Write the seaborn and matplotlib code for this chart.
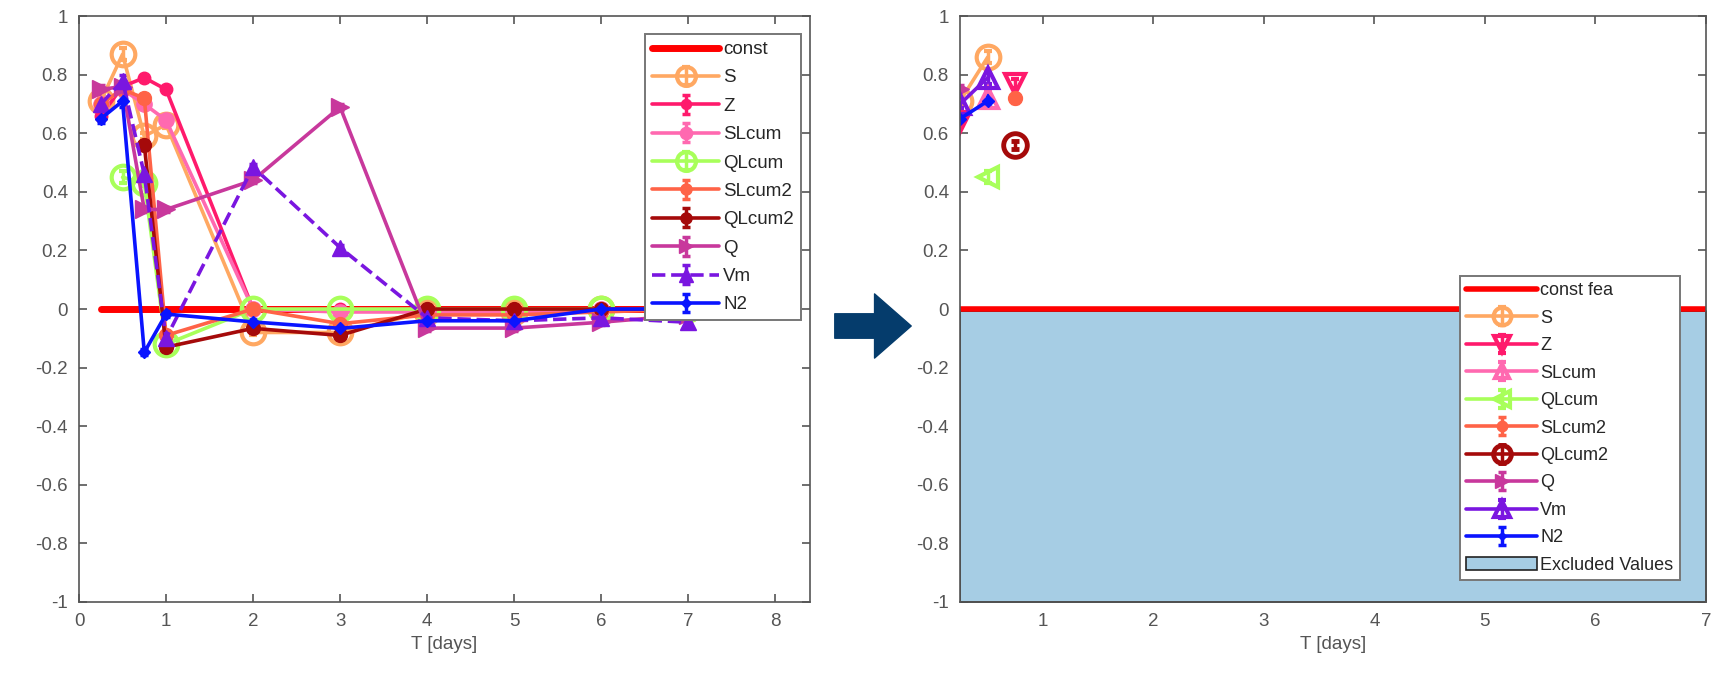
import numpy as np
import pandas as pd
import matplotlib
matplotlib.use('Agg')
import matplotlib.pyplot as plt
import seaborn as sns

# time points (days)
t_left = [0.25, 0.5, 0.75, 1, 2, 3, 4, 5, 6, 7]
nan = np.nan

# left panel: all features
S      = [0.71, 0.87, 0.59, 0.63, -0.08, -0.08, -0.01, -0.01, 0.0, 0.0]
Z      = [0.66, 0.76, 0.79, 0.75, 0.0, 0.0, 0.0, 0.0, 0.0, 0.0]
SLcum  = [0.70, 0.75, 0.70, 0.645, 0.0, -0.01, -0.01, -0.01, 0.0, 0.0]
QLcum  = [nan, 0.45, 0.43, -0.12, 0.0, 0.0, 0.0, 0.0, 0.0, 0.0]
SLcum2 = [0.70, 0.75, 0.72, -0.09, 0.0, -0.05, -0.02, -0.02, -0.01, 0.0]
QLcum2 = [nan, nan, 0.56, -0.13, -0.066, -0.09, 0.0, 0.0, 0.0, 0.0]
Q      = [0.75, 0.76, 0.34, 0.34, 0.44, 0.69, -0.065, -0.065, -0.045, -0.02]
Vm     = [0.70, 0.78, 0.46, -0.10, 0.485, 0.21, -0.03, -0.04, -0.03, -0.045]
N2     = [0.65, 0.71, -0.148, -0.017, -0.044, -0.066, -0.04, -0.04, 0.0, 0.0]
err_left = [0.015, 0.02, 0.01, 0.01, 0.01, 0.01, 0.01, 0.01, 0.01, 0.01]

# right panel: values left after exclusion
t_right = [0.25, 0.5, 0.75]
S_r      = [0.71, 0.86, nan]
Z_r      = [0.64, nan, 0.77]
SLcum_r  = [nan, 0.72, nan]
QLcum_r  = [nan, 0.45, nan]
SLcum2_r = [nan, nan, 0.72]
QLcum2_r = [nan, nan, 0.56]
Q_r      = [0.75, nan, nan]
Vm_r     = [0.70, 0.79, nan]
N2_r     = [0.65, 0.71, nan]
err_right = [0.015, 0.02, 0.015]

const_x = [0.25, 7.0]
const_y = [0.0, 0.0]

yticks = [-1, -0.8, -0.6, -0.4, -0.2, 0, 0.2, 0.4, 0.6, 0.8, 1]
ytick_labels = ['-1', '-0.8', '-0.6', '-0.4', '-0.2', '0', '0.2', '0.4', '0.6', '0.8', '1']

names = ['S', 'Z', 'SLcum', 'QLcum', 'SLcum2', 'QLcum2', 'Q', 'Vm', 'N2']
colors = ['#ffa862', '#ff1a6c', '#ff69b0', '#a8ff5a', '#ff6347',
          '#a50a0a', '#c8389c', '#7a16e0', '#0a14ff']

sns.set_style('white')
plt.rcParams['font.family'] = ['Liberation Sans', 'DejaVu Sans']

fig = plt.figure(figsize=(17.18, 6.77), dpi=100)
ax1 = fig.add_axes([0.046, 0.111, 0.4255, 0.865])
ax2 = fig.add_axes([0.5588, 0.111, 0.4342, 0.865])

# left markers
left_style = {
    'S':      dict(marker='o', ms=17, mfc='none', mew=3),
    'Z':      dict(marker='o', ms=9),
    'SLcum':  dict(marker='o', ms=11),
    'QLcum':  dict(marker='o', ms=17, mfc='none', mew=3),
    'SLcum2': dict(marker='o', ms=10),
    'QLcum2': dict(marker='o', ms=10),
    'Q':      dict(marker='>', ms=13),
    'Vm':     dict(marker='^', ms=12, ls='--'),
    'N2':     dict(marker='D', ms=6),
}
right_style = {
    'S':      dict(marker='o', ms=17, mfc='none', mew=3),
    'Z':      dict(marker='v', ms=15, mfc='none', mew=3),
    'SLcum':  dict(marker='^', ms=14, mfc='none', mew=3),
    'QLcum':  dict(marker='<', ms=15, mfc='none', mew=3),
    'SLcum2': dict(marker='o', ms=10),
    'QLcum2': dict(marker='o', ms=17, mfc='none', mew=3.5),
    'Q':      dict(marker='>', ms=13),
    'Vm':     dict(marker='^', ms=15, mfc='none', mew=3),
    'N2':     dict(marker='D', ms=6),
}

left_data = [S, Z, SLcum, QLcum, SLcum2, QLcum2, Q, Vm, N2]
right_data = [S_r, Z_r, SLcum_r, QLcum_r, SLcum2_r, QLcum2_r, Q_r, Vm_r, N2_r]

# const line via seaborn
sns.lineplot(x=const_x, y=const_y, color='#ff0000', lw=5, ax=ax1, label='const')
for name, col, vals in zip(names, colors, left_data):
    st = dict(left_style[name])
    ls = st.pop('ls', '-')
    ax1.errorbar(t_left, vals, yerr=err_left, color=col, lw=2.6, ls=ls,
                 capsize=3, capthick=2.5, elinewidth=2.5, label=name, **st)

ax1.set_xlim(0, 8.4)
ax1.set_ylim(-1, 1)
ax1.set_xticks(range(0, 9))
ax1.set_yticks(yticks)
ax1.set_yticklabels(ytick_labels)
ax1.set_xlabel('T [days]', fontsize=13.5, color='#555555')
leg1 = ax1.legend(loc='upper right', bbox_to_anchor=(0.987, 0.969), fontsize=13.5,
                  handlelength=3.6, frameon=True, fancybox=False, edgecolor='#777777',
                  framealpha=1, borderpad=0.35, labelspacing=0.6, handletextpad=0.2,
                  borderaxespad=0, markerscale=0.8)
leg1.get_frame().set_linewidth(1.4)

# right panel
exc = ax2.fill_between([0.25, 7.0], [-1, -1], [-0.008, -0.008], color='#a6cde4',
                       edgecolor='#222222', lw=1.2, label='Excluded Values')
ax2.plot([0.25, 7.0], [0.0, 0.0], color='#ff0000', lw=4, label='const fea')
for name, col, vals in zip(names, colors, right_data):
    st = dict(right_style[name])
    ax2.errorbar(t_right, vals, yerr=err_right, color=col, lw=2.6,
                 capsize=3, capthick=2.5, elinewidth=2.5, label=name, **st)

ax2.set_xlim(0.25, 7)
ax2.set_ylim(-1, 1)
ax2.set_xticks(range(1, 8))
ax2.set_yticks(yticks)
ax2.set_yticklabels(ytick_labels)
ax2.set_xlabel('T [days]', fontsize=13.5, color='#555555')
h, l = ax2.get_legend_handles_labels()
order = [l.index('const fea')] + [l.index(n) for n in names] + [l.index('Excluded Values')]
leg2 = ax2.legend([h[i] for i in order], [l[i] for i in order], loc='lower right',
                  bbox_to_anchor=(0.965, 0.037), fontsize=13, handlelength=3.9,
                  frameon=True, fancybox=False, edgecolor='#777777', framealpha=1,
                  borderpad=0.35, labelspacing=0.58, handletextpad=0.2,
                  borderaxespad=0, markerscale=0.75)
leg2.get_frame().set_linewidth(1.4)

for ax in (ax1, ax2):
    ax.tick_params(direction='in', length=6, width=1.2, top=True, right=True,
                   bottom=True, left=True, labelsize=13.5, labelcolor='#555555',
                   color='#555555', pad=8)
    for sp in ax.spines.values():
        sp.set_color('#555555')
        sp.set_linewidth(1.2)

# arrow between panels
fig.patches.append(matplotlib.patches.FancyArrowPatch(
    (832 / 1718, 1 - 326 / 677), (914 / 1718, 1 - 326 / 677),
    transform=fig.transFigure, arrowstyle='simple,head_length=1.2,head_width=2.1,tail_width=0.8',
    mutation_scale=22, color='#053c6c', capstyle='round', joinstyle='round'))

fig.savefig('out.png', dpi=100)
